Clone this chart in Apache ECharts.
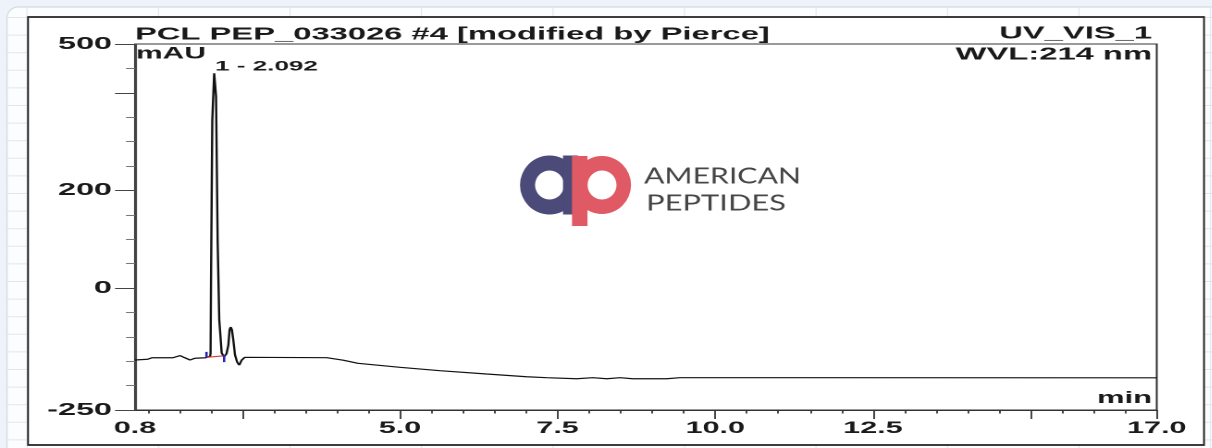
<!DOCTYPE html>
<html><head><meta charset="utf-8">
<script src="https://cdn.jsdelivr.net/npm/echarts@6/dist/echarts.min.js"></script>
<style>
html,body{margin:0;padding:0;background:#eef2f9;overflow:hidden;}
#wrap{position:absolute;left:0;top:0;width:1212px;height:448px;overflow:hidden;}
#chart{position:absolute;left:0;top:0;height:448px;transform-origin:0 0;}
</style></head><body>
<div id="wrap"><div id="chart"></div></div>
<script>
// ---- data ----
const timeMin = [0.80, 1.00, 1.07, 1.40, 1.513, 1.59, 1.672, 1.75, 1.80, 1.92, 1.990, 1.998, 2.005, 2.025, 2.055, 2.085, 2.110, 2.136, 2.174, 2.210, 2.250, 2.280, 2.300, 2.317, 2.335, 2.358, 2.385, 2.420, 2.453, 2.490, 2.540, 3.840, 4.100, 4.335, 5.000, 5.634, 6.374, 7.009, 7.326, 7.800, 8.060, 8.280, 8.490, 8.690, 9.230, 9.440, 10.230, 10.280, 10.340, 11.340, 17.000];
const mAU = [-147.5, -146, -143, -143, -138.5, -143, -147.5, -144, -143, -143, -140, -134, 13, 344, 440, 392, 95, -66, -133, -141, -135, -117, -85, -80, -85, -106, -137, -152, -158, -148, -142, -142.8, -148, -154.3, -162.5, -169.5, -176.2, -181.8, -183.8, -185.9, -183.8, -185.9, -183.8, -185.9, -185.9, -183.8, -183.8, -186.5, -183.8, -183.8, -184];
// integration marks (baseline + peak delimiters)
const baseT = [1.936, 2.21];
const baseV = [-142, -139];
const startMarkT = [1.933, 1.933];
const startMarkV = [-131, -142];
const endMarkT = [2.213, 2.213];
const endMarkV = [-137, -152];
// ---- axes ----
const xTickLabels = [0.8, 5.0, 7.5, 10.0, 12.5, 17.0];
const xMajorTicks = [2.5, 5.0, 7.5, 10.0, 12.5, 15.0, 17.0];
const xMinorTicks = [1.0, 1.5, 2.0, 3.0, 3.5, 4.0, 4.5, 5.5, 6.0, 6.5, 7.0, 8.0, 8.5, 9.0, 9.5, 10.5, 11.0, 11.5, 12.0, 13.0, 13.5, 14.0, 14.5, 15.5, 16.0, 16.5];
const yTickLabels = [500, 200, 0, -250];
const yMajorTicks = [500, 400, 200, 0, -250];

const S = 1.85;           // horizontal stretch of the printed chromatogram
const W = 1212, H = 448;
const FONT = '"Liberation Sans", Arial, sans-serif';

const el = document.getElementById('chart');
el.style.width = (W / S) + 'px';
el.style.transform = 'scaleX(' + S + ')';

function pair(a, b) { return a.map((t, i) => [t, b[i]]); }

// measure logo words to emulate the logo's wide letter spacing
const mctx = document.createElement('canvas').getContext('2d');
const logoFont = '400 22px Lato, "Open Sans", sans-serif';
mctx.font = logoFont;
const sxAm = 157 / mctx.measureText('AMERICAN').width;
const sxPe = 140 / mctx.measureText('PEPTIDES').width;

// decorative spreadsheet background (real pixel coords, inside a 1/S group)
const bg = [];
bg.push({type: 'rect', z: -100, shape: {x: 0, y: 0, width: W, height: H}, style: {fill: '#eef2f9'}});
bg.push({type: 'rect', z: -99, shape: {x: 7, y: 7, width: W + 20, height: H + 20, r: 11}, style: {fill: '#fcfdfe', stroke: '#d3dbe8', lineWidth: 1.2}});
for (let y = 17.5; y < H; y += 17.6) {
  bg.push({type: 'line', z: -98, shape: {x1: 8, y1: y, x2: W, y2: y}, style: {stroke: '#e1e6ee', lineWidth: 1}});
}
[27, 158.5, 290, 421.5, 553, 684.5, 816, 947.5, 1079, 1210.5].forEach(x => {
  bg.push({type: 'line', z: -98, shape: {x1: x, y1: 8, x2: x, y2: H}, style: {stroke: '#e1e6ee', lineWidth: 1}});
});
bg.push({type: 'rect', z: -90, shape: {x: 28, y: 17, width: 1176, height: 428}, style: {fill: '#ffffff', stroke: '#222', lineWidth: 1.8}});
// logo
const PURPLE = '#4b4a78', RED = '#e05a65';
bg.push({type: 'ring', z: 5, shape: {cx: 549.5, cy: 185, r: 29.5, r0: 14.5}, style: {fill: PURPLE}});
bg.push({type: 'rect', z: 5, shape: {x: 563, y: 155.5, width: 15, height: 59}, style: {fill: PURPLE}});
bg.push({type: 'ring', z: 6, shape: {cx: 602, cy: 185, r: 29, r0: 14.5}, style: {fill: RED}});
bg.push({type: 'rect', z: 6, shape: {x: 572, y: 156, width: 15.5, height: 70}, style: {fill: RED}});
bg.push({type: 'text', z: 6, x: 644, y: 176.5, scaleX: sxAm, style: {text: 'AMERICAN', font: logoFont, fill: '#464646', verticalAlign: 'middle'}});
bg.push({type: 'text', z: 6, x: 646, y: 203.5, scaleX: sxPe, style: {text: 'PEPTIDES', font: logoFont, fill: '#464646', verticalAlign: 'middle'}});

function txt(t, xr, y, size, align) {
  return {type: 'text', z: 20, x: xr / S, y: y, style: {text: t, font: 'bold ' + size + 'px ' + FONT, fill: '#1a1a1a', align: align || 'left', verticalAlign: 'middle'}};
}

const chart = echarts.init(el, null, {renderer: 'canvas', devicePixelRatio: 2});
chart.setOption({
  animation: false,
  backgroundColor: 'transparent',
  grid: {left: 135 / S, right: (W - 1157) / S, top: 44, bottom: 38, show: true, borderColor: '#333', borderWidth: 1, backgroundColor: 'transparent'},
  xAxis: [
    {type: 'value', min: 0.8, max: 17, position: 'bottom',
     axisLine: {show: true, onZero: false, lineStyle: {color: '#333', width: 1}},
     axisTick: {show: true, customValues: xMinorTicks, length: 3.5, lineStyle: {color: '#333', width: 0.9}},
     axisLabel: {show: false}, splitLine: {show: false}},
    {type: 'value', min: 0.8, max: 17, position: 'bottom',
     axisLine: {show: false, onZero: false},
     axisTick: {show: true, customValues: xMajorTicks, length: 9, lineStyle: {color: '#333', width: 0.9}},
     axisLabel: {show: true, customValues: xTickLabels, formatter: v => Number(v).toFixed(1), margin: 10,
                 fontFamily: FONT, fontWeight: 'bold', fontSize: 16.5, color: '#1a1a1a'},
     splitLine: {show: false}}
  ],
  yAxis: [
    {type: 'value', min: -250, max: 500, interval: 50, position: 'left',
     axisLine: {show: true, onZero: false, lineStyle: {color: '#444', width: 1.1}},
     axisTick: {show: true, length: 9 / S, lineStyle: {color: '#777', width: 1}},
     axisLabel: {show: false}, splitLine: {show: false}},
    {type: 'value', min: -250, max: 500, interval: 50, position: 'left',
     axisLine: {show: false, onZero: false},
     axisTick: {show: true, customValues: yMajorTicks, length: 20 / S, lineStyle: {color: '#444', width: 1}},
     axisLabel: {show: true, customValues: yTickLabels, margin: 23 / S,
                 fontFamily: FONT, fontWeight: 'bold', fontSize: 17.5, color: '#1a1a1a'},
     splitLine: {show: false}}
  ],
  series: [
    {type: 'line', name: 'UV_VIS_1', xAxisIndex: 0, yAxisIndex: 0, data: pair(timeMin, mAU), symbol: 'none', lineStyle: {color: '#111', width: 1.2}, z: 3},
    {type: 'line', xAxisIndex: 0, yAxisIndex: 0, data: pair(baseT, baseV), symbol: 'none', lineStyle: {color: '#e03a3a', width: 1.1}, z: 4},
    {type: 'line', xAxisIndex: 0, yAxisIndex: 0, data: pair(startMarkT, startMarkV), symbol: 'none', lineStyle: {color: '#2323b8', width: 1.3}, z: 5},
    {type: 'line', xAxisIndex: 0, yAxisIndex: 0, data: pair(endMarkT, endMarkV), symbol: 'none', lineStyle: {color: '#2323b8', width: 1.3}, z: 5}
  ],
  graphic: [
    {type: 'group', x: 0, y: 0, scaleX: 1 / S, silent: true, children: bg},
    txt('PCL PEP_033026 #4 [modified by Pierce]', 135, 34.5, 17.7, 'left'),
    txt('UV_VIS_1', 1152, 33.5, 17.7, 'right'),
    txt('WVL:214 nm', 1152, 54.5, 17.7, 'right'),
    txt('mAU', 136, 54, 16.2, 'left'),
    txt('1 - 2.092', 215, 66.5, 14.1, 'left'),
    txt('min', 1152, 398.5, 16.7, 'right')
  ]
});
</script>
</body></html>
